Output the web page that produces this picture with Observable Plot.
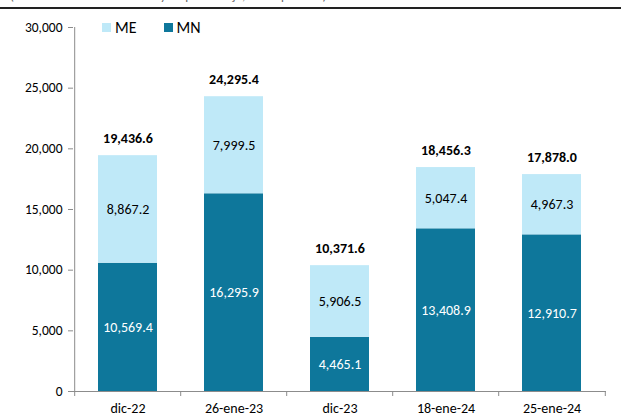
<!DOCTYPE html>
<html>
<head>
<meta charset="utf-8">
<script src="https://cdn.jsdelivr.net/npm/d3@7"></script>
<script src="https://cdn.jsdelivr.net/npm/@observablehq/plot@0.6"></script>
<style>
  html, body { margin: 0; padding: 0; background: #fff; }
  #wrap { position: relative; width: 621px; height: 417px; overflow: hidden; font-family: Carlito, Calibri, Lato, sans-serif; }
  #head { position: absolute; left: 0; top: 0; width: 621px; height: 4px; overflow: hidden; }
  #head span { position: absolute; left: 10px; top: -12px; font-size: 13px; color: #666; white-space: nowrap; }
  #rule { position: absolute; left: 0; top: 7px; width: 621px; height: 2px; background: #222; }
  #legend { position: absolute; left: 102px; top: 18px; font-size: 16px; color: #000; display: flex; align-items: center; }
  #legend .sw { display: inline-block; width: 9px; height: 9px; margin-right: 4px; }
  #legend .it { display: flex; align-items: center; margin-right: 27px; }
</style>
</head>
<body>
<div id="wrap">
  <div id="head"><span>(Saldos en millones de soles y en porcentaje, fin de período)</span></div>
  <div id="rule"></div>
  <div id="chart"></div>
  <div id="legend"></div>
</div>
<script>
const categories = ["dic-22", "26-ene-23", "dic-23", "18-ene-24", "25-ene-24"];
const mnValues = [10569.4, 16295.9, 4465.1, 13408.9, 12910.7];
const meValues = [8867.2, 7999.5, 5906.5, 5047.4, 4967.3];
const totals = [19436.6, 24295.4, 10371.6, 18456.3, 17878.0];
const yTicks = [0, 5000, 10000, 15000, 20000, 25000, 30000];
const series = ["ME", "MN"];
const colors = {ME: "#bfe9f8", MN: "#0e779b"};

const rows = [];
categories.forEach((c, i) => {
  rows.push({fecha: c, serie: "MN", valor: mnValues[i]});
  rows.push({fecha: c, serie: "ME", valor: meValues[i]});
});
const totalRows = categories.map((c, i) => ({fecha: c, total: totals[i]}));

const W = 621, H = 417;
const mL = 73, mR = 15, mT = 27, mB = 26;
const step = (W - mL - mR) / categories.length;
const unitsPerPx = 30000 / (H - mT - mB);
const fmt1 = d3.format(",.1f");
const axisColor = "#8c8c8c";
const font = "Carlito, Calibri, Lato, sans-serif";

const stackOpts = {x: "fecha", y: "valor", z: "serie", order: ["MN", "ME"], text: d => fmt1(d.valor)};

const chart = Plot.plot({
  width: W, height: H,
  marginLeft: mL, marginRight: mR, marginTop: mT, marginBottom: mB,
  style: {fontFamily: font, fontSize: "13px", color: "#000", background: "transparent"},
  x: {type: "band", domain: categories, paddingInner: 0.447, paddingOuter: 0.2235, label: null},
  y: {domain: [0, 30000], label: null},
  color: {domain: series, range: series.map(s => colors[s])},
  marks: [
    Plot.barY(rows, {x: "fecha", y: "valor", fill: "serie", order: ["MN", "ME"]}),
    Plot.text(rows, Plot.filter(d => d.serie === "MN", Plot.stackY({...stackOpts, fill: "white", fontSize: 14}))),
    Plot.text(rows, Plot.filter(d => d.serie === "ME", Plot.stackY({...stackOpts, fill: "black", fontSize: 14}))),
    Plot.text(totalRows, {x: "fecha", y: "total", text: d => fmt1(d.total), dy: -17, fontWeight: "bold", fontSize: 14, fill: "black"}),
    Plot.axisY({ticks: yTicks, tickFormat: d3.format(","), tickSize: 5, tickPadding: 6, stroke: axisColor, fill: "black", label: null, fontSize: 13.5}),
    Plot.axisX({tickSize: 0, tickPadding: 12, fill: "black", label: null, fontSize: 14}),
    Plot.ruleY([0], {stroke: axisColor}),
    Plot.ruleX([categories[0]], {x: d => d, dx: -step / 2, y1: 0, y2: 30000, stroke: axisColor}),
    Plot.ruleX(categories, {x: d => d, dx: -step / 2, y1: 0, y2: -5 * unitsPerPx, stroke: axisColor}),
    Plot.ruleX([categories[categories.length - 1]], {x: d => d, dx: step / 2, y1: 0, y2: -5 * unitsPerPx, stroke: axisColor})
  ]
});
document.getElementById("chart").appendChild(chart);

const legend = document.getElementById("legend");
series.forEach(s => {
  const it = document.createElement("div");
  it.className = "it";
  const sw = document.createElement("span");
  sw.className = "sw";
  sw.style.background = colors[s];
  const t = document.createElement("span");
  t.textContent = s;
  it.appendChild(sw); it.appendChild(t);
  legend.appendChild(it);
});
</script>
</body>
</html>
